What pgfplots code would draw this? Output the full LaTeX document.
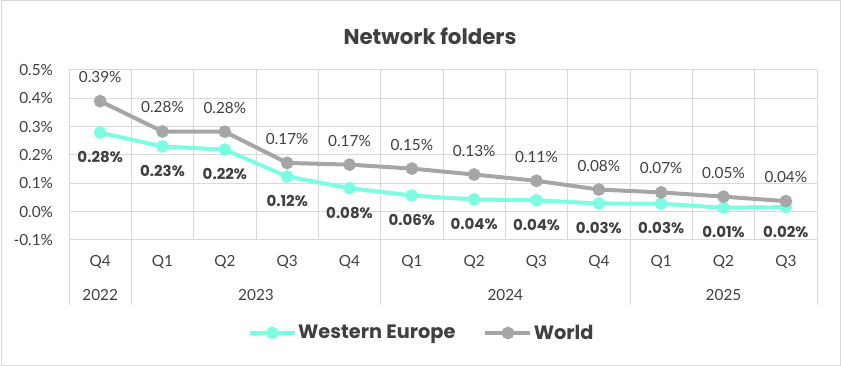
\documentclass[border=0pt]{standalone}
\usepackage{pgfplots}
\pgfplotsset{compat=1.18}
\usepackage{fontspec}
\setmainfont{Lato}
\newfontfamily\pop{Poppins}
\definecolor{we}{RGB}{125,253,226}
\definecolor{wo}{RGB}{166,166,166}
\definecolor{txt}{RGB}{64,64,64}
\definecolor{grd}{RGB}{217,217,217}
\begin{document}
\begin{tikzpicture}[x=1pt,y=1pt]
\path[use as bounding box] (0,0) rectangle (630.75,-274.5);
\draw[grd, line width=0.75pt] (0.75,-0.75) rectangle (630,-273.75);
\node[font=\pop\bfseries\fontsize{16}{18}\selectfont, text=txt] at (322.5,-27.5) {Network folders};
\begin{axis}[
  at={(51.75pt,-52.5pt)}, anchor=north west, scale only axis,
  width=561pt, height=127.5pt,
  xmin=-0.5, xmax=11.5, ymin=-0.1, ymax=0.5,
  ytick={-0.1,0,0.1,0.2,0.3,0.4,0.5},
  yticklabels={-0.1\%,0.0\%,0.1\%,0.2\%,0.3\%,0.4\%,0.5\%},
  xtick={0,1,2,3,4,5,6,7,8,9,10,11},
  xticklabels={Q4,Q1,Q2,Q3,Q4,Q1,Q2,Q3,Q4,Q1,Q2,Q3},
  minor xtick={-0.5,0.5,1.5,2.5,3.5,4.5,5.5,6.5,7.5,8.5,9.5,10.5,11.5},
  ymajorgrids, xminorgrids,
  grid style={grd, line width=0.75pt},
  major grid style={grd, line width=0.75pt},
  minor grid style={grd, line width=0.75pt},
  major tick length=0pt, minor tick length=0pt,
  axis line style={draw=none},
  tick label style={font=\fontsize{11.5}{13}\selectfont, text=txt},
  xticklabel style={anchor=center, yshift=-16.5pt},
  yticklabel style={anchor=east, xshift=-8.5pt},
  clip=false,
  legend style={at={(0.471,-0.547)}, anchor=center, draw=none, fill=none,
    font=\pop\bfseries\fontsize{14.5}{16}\selectfont, text=txt,
    nodes={inner xsep=1pt},
    /tikz/every even column/.append style={column sep=20pt}},
  legend columns=2,
  legend image code/.code={\draw[#1, mark repeat=2, mark phase=2] plot coordinates {(0pt,0pt) (16.9pt,0pt) (33.75pt,0pt)};},
  /pgf/number format/assume math mode=true,
]
\addplot[we, line width=3pt, mark=*, mark size=3.2pt,
  nodes near coords={\pgfmathprintnumber[fixed,fixed zerofill,precision=2]{\pgfplotspointmeta}\%},
  every node near coord/.append style={font=\pop\bfseries\fontsize{11.25}{13}\selectfont, text=txt, anchor=center, yshift=-18.5pt}]
  coordinates {(0,0.279) (1,0.23) (2,0.219) (3,0.124) (4,0.083) (5,0.057) (6,0.043) (7,0.04) (8,0.029) (9,0.028) (10,0.014) (11,0.016)};
\addlegendentry{Western Europe}
\addplot[wo, line width=3pt, mark=*, mark size=3.2pt,
  nodes near coords={\pgfmathprintnumber[fixed,fixed zerofill,precision=2]{\pgfplotspointmeta}\%},
  every node near coord/.append style={font=\fontsize{11.5}{13}\selectfont, text=txt, anchor=center, yshift=18pt}]
  coordinates {(0,0.39) (1,0.283) (2,0.282) (3,0.172) (4,0.166) (5,0.152) (6,0.131) (7,0.109) (8,0.078) (9,0.068) (10,0.053) (11,0.037)};
\addlegendentry{World}
\draw[grd, line width=0.75pt] (axis cs:-0.5,-0.1) -- ++(0pt,-48.75pt);
\draw[grd, line width=0.75pt] (axis cs:0.5,-0.1) -- ++(0pt,-48.75pt);
\draw[grd, line width=0.75pt] (axis cs:4.5,-0.1) -- ++(0pt,-48.75pt);
\draw[grd, line width=0.75pt] (axis cs:8.5,-0.1) -- ++(0pt,-48.75pt);
\draw[grd, line width=0.75pt] (axis cs:11.5,-0.1) -- ++(0pt,-48.75pt);
\node[font=\fontsize{11.5}{13}\selectfont, text=txt] at ([yshift=-41.25pt]axis cs:0,-0.1) {2022};
\node[font=\fontsize{11.5}{13}\selectfont, text=txt] at ([yshift=-41.25pt]axis cs:2.5,-0.1) {2023};
\node[font=\fontsize{11.5}{13}\selectfont, text=txt] at ([yshift=-41.25pt]axis cs:6.5,-0.1) {2024};
\node[font=\fontsize{11.5}{13}\selectfont, text=txt] at ([yshift=-41.25pt]axis cs:10,-0.1) {2025};
\end{axis}
\end{tikzpicture}
\end{document}
